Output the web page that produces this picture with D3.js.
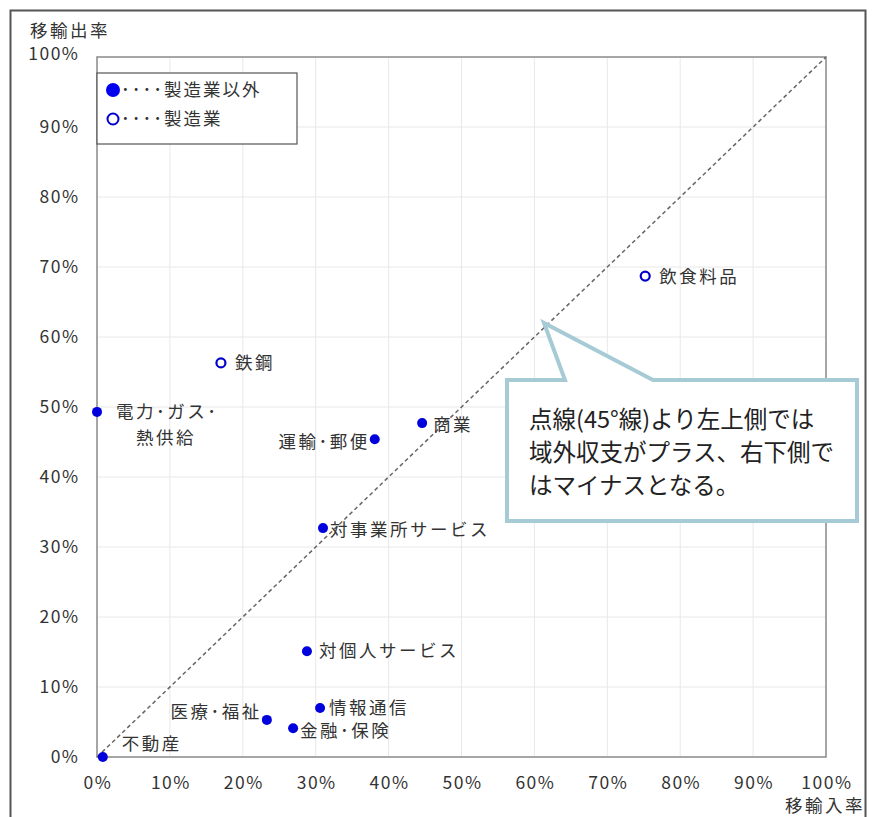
<!DOCTYPE html>
<html lang="ja">
<head>
<meta charset="utf-8">
<script src="https://d3js.org/d3.v7.min.js"></script>
<style>
  body { margin: 0; background: #fff; }
  svg { font-family: "Noto Sans CJK JP", "Noto Sans", sans-serif; }
</style>
</head>
<body>
<div id="chart"></div>
<script>
  // industries: name, import rate %, export rate %
  var names = ["不動産", "電力･ガス･熱供給", "鉄鋼", "飲食料品", "商業", "運輸･郵便",
               "対事業所サービス", "対個人サービス", "情報通信", "医療･福祉", "金融･保険"];
  var importRate = [0.8, 0.0, 17.0, 75.2, 44.6, 38.1, 31.0, 28.8, 30.6, 23.3, 26.9];
  var exportRate = [0.0, 49.3, 56.3, 68.7, 47.7, 45.4, 32.7, 15.1, 7.0, 5.3, 4.1];
  var isManufacturing = [false, false, true, true, false, false, false, false, false, false, false];
  var ticks = [0, 10, 20, 30, 40, 50, 60, 70, 80, 90, 100];

  var width = 873, height = 817;
  var plotLeft = 97, plotRight = 826, plotTop = 57, plotBottom = 757;
  var textColor = '#333';
  var fs = 17.5, cjkSpacing = 2.5;

  var svg = d3.select('#chart').append('svg')
    .attr('width', width).attr('height', height);

  var x = d3.scaleLinear().domain([0, 100]).range([plotLeft, plotRight]);
  var y = d3.scaleLinear().domain([0, 100]).range([plotBottom, plotTop]);

  // outer frame
  svg.append('path')
    .attr('d', 'M10.5,' + height + 'V10.5H865.5V' + height)
    .attr('fill', 'none').attr('stroke', '#555').attr('stroke-width', 2);

  // grid
  svg.append('g').selectAll('line').data(ticks).enter().append('line')
    .attr('x1', d => x(d)).attr('x2', d => x(d))
    .attr('y1', plotTop).attr('y2', plotBottom)
    .attr('stroke', '#e8e8e8');
  svg.append('g').selectAll('line').data(ticks).enter().append('line')
    .attr('y1', d => y(d)).attr('y2', d => y(d))
    .attr('x1', plotLeft).attr('x2', plotRight)
    .attr('stroke', '#e8e8e8');

  svg.append('rect')
    .attr('x', plotLeft).attr('y', plotTop)
    .attr('width', plotRight - plotLeft).attr('height', plotBottom - plotTop)
    .attr('fill', 'none').attr('stroke', '#8c8c8c').attr('stroke-width', 1.5);

  // tick labels
  var fmt = d => d + '%';
  svg.append('g').selectAll('text').data(ticks).enter().append('text')
    .attr('x', 79.5).attr('y', d => y(d) + (d === 100 ? 3 : 6))
    .attr('text-anchor', 'end')
    .attr('font-size', fs).attr('letter-spacing', 1.5).attr('fill', textColor)
    .text(fmt);
  svg.append('g').selectAll('text').data(ticks).enter().append('text')
    .attr('x', d => x(d) + 1).attr('y', 789)
    .attr('text-anchor', 'middle')
    .attr('font-size', fs).attr('letter-spacing', 1.5).attr('fill', textColor)
    .text(fmt);

  // axis titles
  svg.append('text').attr('x', 30).attr('y', 37)
    .attr('font-size', fs).attr('letter-spacing', cjkSpacing).attr('fill', textColor).text('移輸出率');
  svg.append('text').attr('x', 865).attr('y', 812).attr('text-anchor', 'end')
    .attr('font-size', fs).attr('letter-spacing', cjkSpacing).attr('fill', textColor).text('移輸入率');

  // 45 degree line
  svg.append('line')
    .attr('x1', x(0)).attr('y1', y(0)).attr('x2', x(100)).attr('y2', y(100))
    .attr('stroke', '#666').attr('stroke-width', 1.5)
    .attr('stroke-dasharray', '4,3');

  // points
  var data = names.map(function (n, i) {
    return { name: n, ix: importRate[i], ex: exportRate[i], mfg: isManufacturing[i] };
  });
  svg.append('g').selectAll('circle').data(data).enter().append('circle')
    .attr('cx', d => x(d.ix)).attr('cy', d => y(d.ex))
    .attr('r', d => d.mfg ? 4.5 : 5)
    .attr('fill', d => d.mfg ? '#fff' : '#0000dd')
    .attr('stroke', '#0000cc')
    .attr('stroke-width', d => d.mfg ? 2.2 : 0);

  // labels: offsets relative to the point
  var labelPos = {
    "不動産": [19, -13, 'start'],
    "電力･ガス･熱供給": [19, 0, 'start'],
    "鉄鋼": [14, 0, 'start'],
    "飲食料品": [14, 1, 'start'],
    "商業": [11, 2, 'start'],
    "運輸･郵便": [-5, 3, 'end'],
    "対事業所サービス": [7, 2, 'start'],
    "対個人サービス": [12, 0, 'start'],
    "情報通信": [9, 0, 'start'],
    "医療･福祉": [-5, -8, 'end'],
    "金融･保険": [7, 3, 'start']
  };
  var lab = svg.append('g').selectAll('text').data(data).enter().append('text')
    .attr('font-size', fs).attr('letter-spacing', cjkSpacing).attr('fill', textColor)
    .attr('text-anchor', d => labelPos[d.name][2])
    .attr('x', d => x(d.ix) + labelPos[d.name][0])
    .attr('y', d => y(d.ex) + labelPos[d.name][1] + 6);
  lab.each(function (d) {
    var t = d3.select(this);
    if (d.name === "電力･ガス･熱供給") {
      t.append('tspan').text('電力･ガス･');
      t.append('tspan').attr('x', x(d.ix) + 39).attr('dy', 26).text('熱供給');
    } else {
      t.text(d.name);
    }
  });

  // legend
  var lg = svg.append('g');
  lg.append('rect').attr('x', 97).attr('y', 73).attr('width', 200).attr('height', 71)
    .attr('fill', '#fff').attr('stroke', '#555').attr('stroke-width', 1.2);
  var legendItems = [
    { label: '････製造業以外', mfg: false },
    { label: '････製造業', mfg: true }
  ];
  legendItems.forEach(function (d, i) {
    var cy = 90 + i * 29;
    lg.append('circle').attr('cx', 113).attr('cy', cy)
      .attr('r', d.mfg ? 5.5 : 7)
      .attr('fill', d.mfg ? '#fff' : '#0000ee')
      .attr('stroke', '#0000cc').attr('stroke-width', d.mfg ? 2 : 0);
    lg.append('text').attr('x', 121).attr('y', cy + 6)
      .attr('font-size', fs).attr('letter-spacing', 2).attr('fill', textColor).text(d.label);
  });

  // callout
  var co = svg.append('g');
  co.append('path')
    .attr('d', 'M507,380H565L544,323L653,380H857V521H507Z')
    .attr('fill', '#fff').attr('stroke', '#a7cbd5').attr('stroke-width', 4)
    .attr('stroke-linejoin', 'miter');
  var calloutLines = ['点線(45°線)より左上側では', '域外収支がプラス、右下側で', 'はマイナスとなる。'];
  co.selectAll('text').data(calloutLines).enter().append('text')
    .attr('x', 529).attr('y', (d, i) => 428 + i * 33)
    .attr('font-size', 23.5).attr('fill', '#222')
    .text(d => d);
</script>
</body>
</html>
